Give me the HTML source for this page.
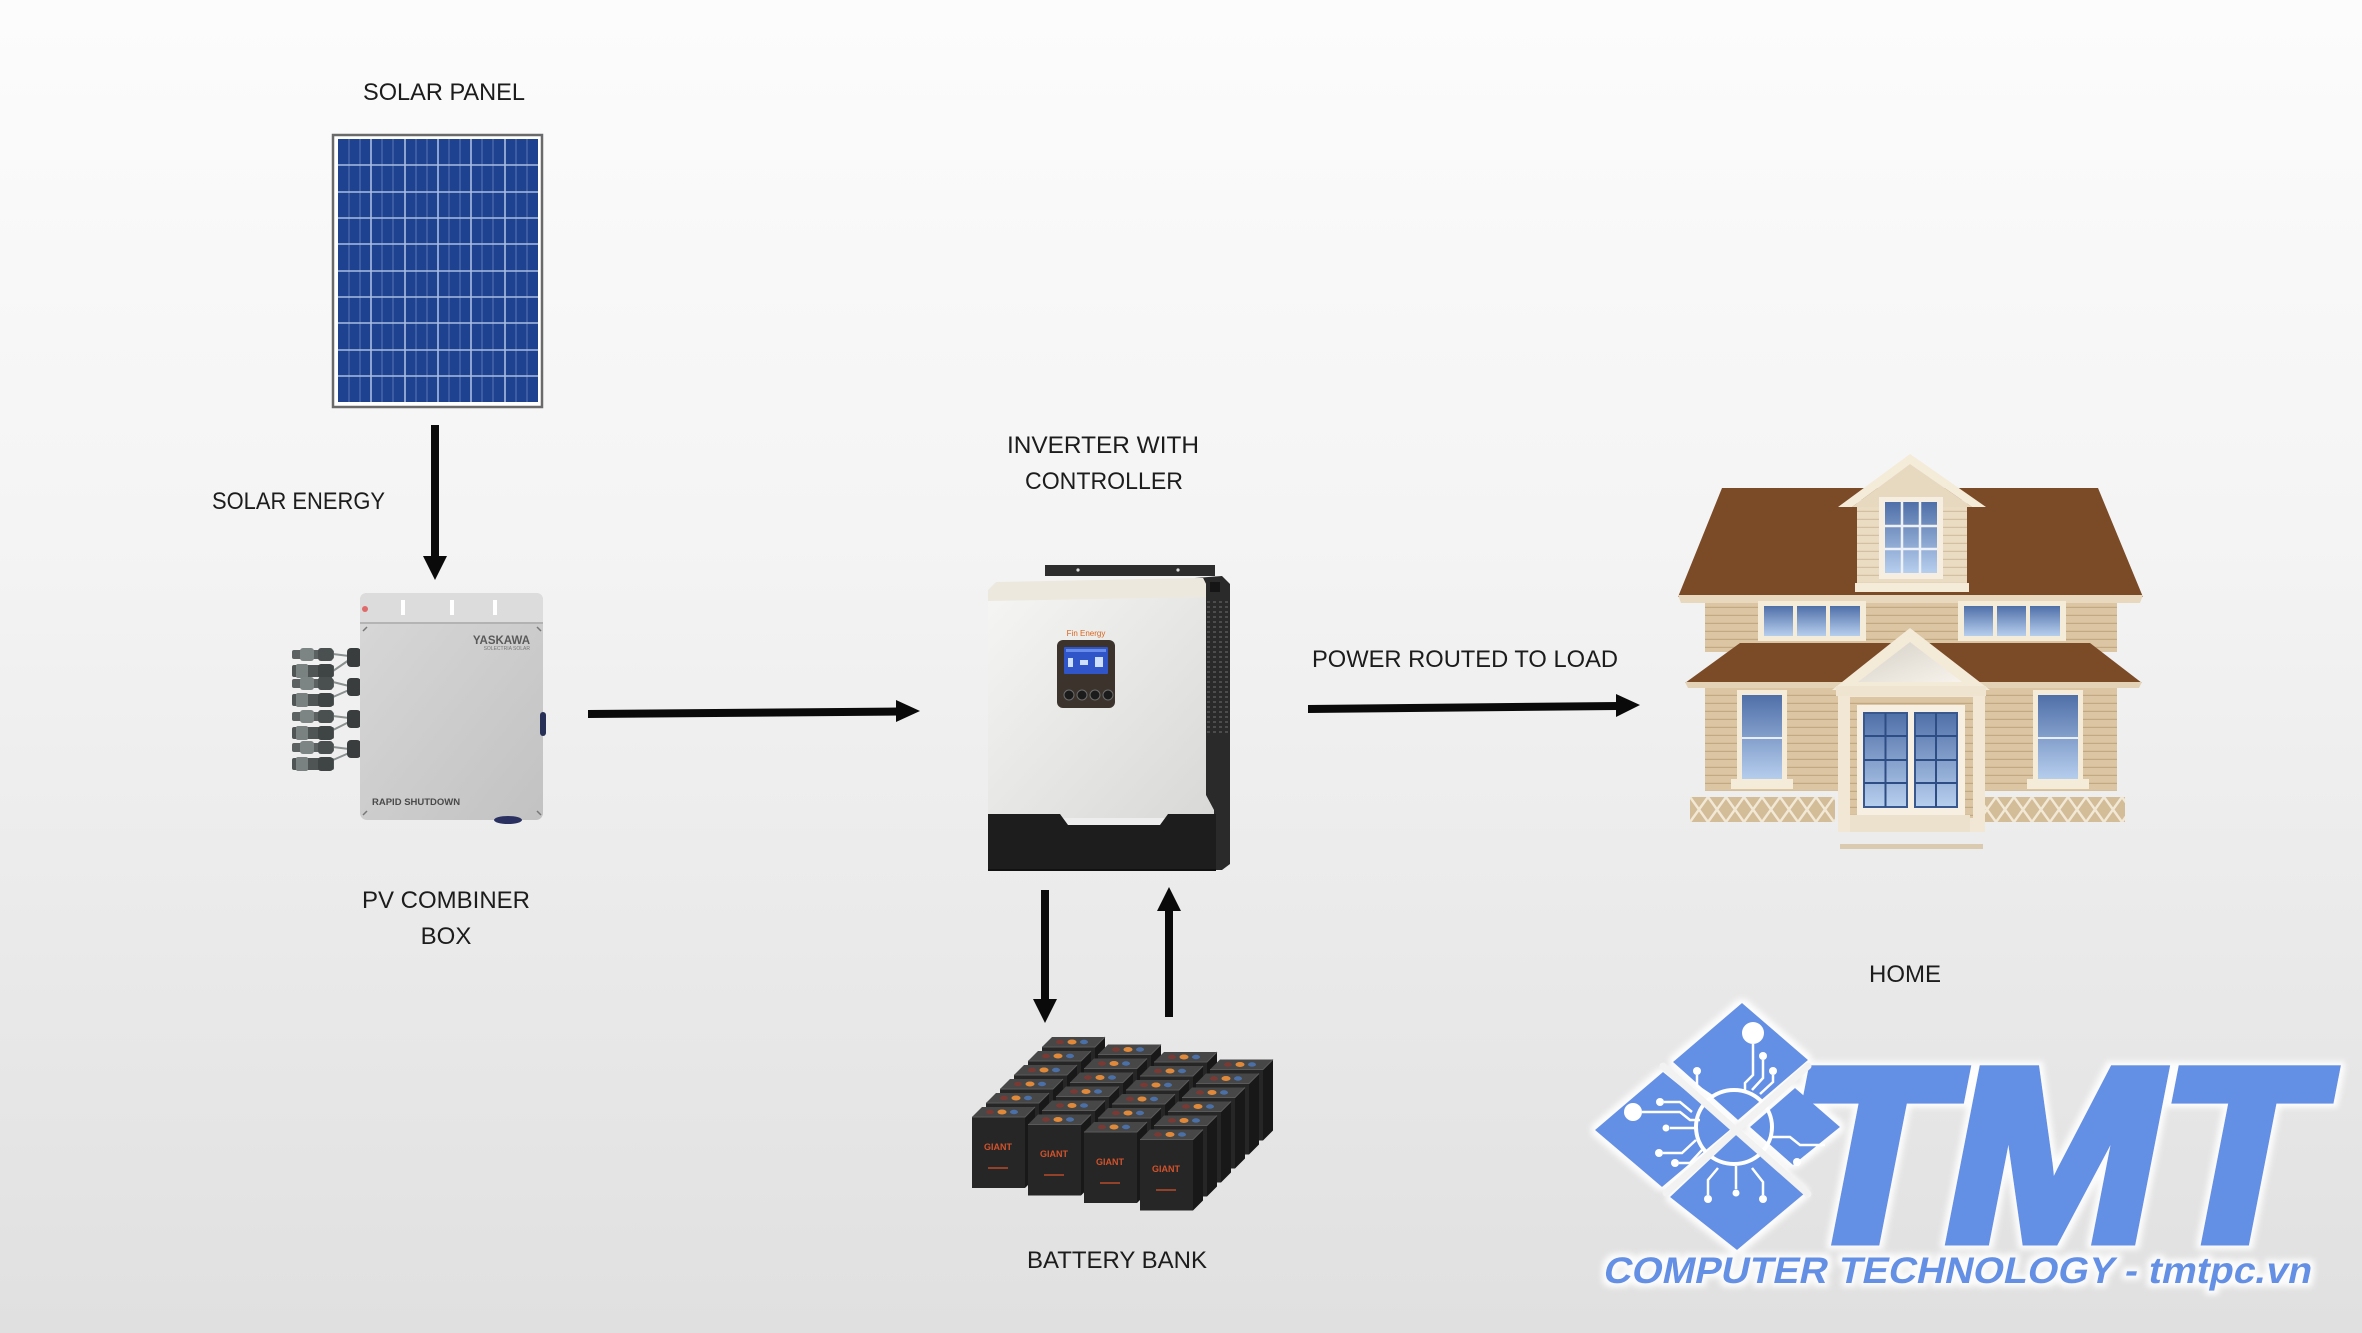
<!DOCTYPE html>
<html><head><meta charset="utf-8"><style>
html,body{margin:0;padding:0;width:2362px;height:1333px;overflow:hidden;background:#eee;}
svg{display:block}
text{font-family:"Liberation Sans",Arial,sans-serif;}
</style></head><body>
<svg width="2362" height="1333" viewBox="0 0 2362 1333" xmlns="http://www.w3.org/2000/svg" xmlns:xlink="http://www.w3.org/1999/xlink">
<defs>
 <linearGradient id="bg" x1="0" y1="0" x2="0" y2="1">
  <stop offset="0" stop-color="#fcfcfc"/>
  <stop offset="0.4" stop-color="#f4f4f4"/>
  <stop offset="1" stop-color="#e0e0e0"/>
 </linearGradient>
 <linearGradient id="glass" x1="0" y1="0" x2="0" y2="1">
  <stop offset="0" stop-color="#4f6fa8"/>
  <stop offset="1" stop-color="#b7cfee"/>
 </linearGradient>
 <linearGradient id="invface" x1="0" y1="0" x2="1" y2="1">
  <stop offset="0" stop-color="#f6f6f4"/>
  <stop offset="1" stop-color="#d8d8d6"/>
 </linearGradient>
 <linearGradient id="boxg" x1="0" y1="0" x2="1" y2="1">
  <stop offset="0" stop-color="#d8d8d8"/>
  <stop offset="1" stop-color="#c2c2c2"/>
 </linearGradient>
 <linearGradient id="gableg" x1="0" y1="0" x2="1" y2="1">
  <stop offset="0" stop-color="#d6d0c6"/>
  <stop offset="1" stop-color="#f7f3ec"/>
 </linearGradient>
 <pattern id="siding" width="10" height="8" patternUnits="userSpaceOnUse">
  <rect width="10" height="8" fill="#dbc5a3"/>
  <rect y="6.8" width="10" height="1.2" fill="#c3a983"/>
 </pattern>
 <pattern id="sidingL" width="10" height="8" patternUnits="userSpaceOnUse">
  <rect width="10" height="8" fill="#eadcc2"/>
  <rect y="6.8" width="10" height="1.2" fill="#d3c0a0"/>
 </pattern>
 <pattern id="lattice" width="18" height="25" patternUnits="userSpaceOnUse" x="1690" y="797">
  <rect width="18" height="25" fill="#d3bc98"/>
  <path d="M0,0 L18,25 M18,0 L0,25" stroke="#f2e8d6" stroke-width="2.5"/>
 </pattern>
 <pattern id="vent" width="6" height="5" patternUnits="userSpaceOnUse">
  <rect width="6" height="5" fill="#2a2a2a"/>
  <rect x="1" y="1" width="3" height="2" fill="#4c4c4c"/>
 </pattern>
 <g id="bat">
  <polygon points="53,0 63,-10 63,61 53,71" fill="#181818"/>
  <polygon points="0,0 53,0 63,-10 10,-10" fill="#474747"/>
  <path d="M0,0 H53 L63,-10" stroke="#5a5a5a" stroke-width="1" fill="none"/>
  <rect x="0" y="0.5" width="53" height="70.5" fill="#262626"/>
  <ellipse cx="18" cy="-5" rx="4" ry="2.2" fill="#7a3a33"/>
  <ellipse cx="30" cy="-5" rx="4.5" ry="2.5" fill="#e0893a"/>
  <ellipse cx="42" cy="-5" rx="4" ry="2.2" fill="#4b70a8"/>
 </g>
 <filter id="glow" x="-10%" y="-10%" width="120%" height="120%">
  <feMorphology in="SourceAlpha" operator="dilate" radius="4" result="d"/>
  <feGaussianBlur in="d" stdDeviation="3" result="b"/>
  <feFlood flood-color="#ffffff" flood-opacity="0.9"/>
  <feComposite in2="b" operator="in" result="w"/>
  <feMerge><feMergeNode in="w"/><feMergeNode in="SourceGraphic"/></feMerge>
 </filter>
</defs>

<rect width="2362" height="1333" fill="url(#bg)"/>

<!-- ================= LABELS ================= -->
<g fill="#1c1c1c" font-size="24">
 <text x="444" y="100" text-anchor="middle" textLength="162" lengthAdjust="spacingAndGlyphs">SOLAR PANEL</text>
 <text x="212" y="509" textLength="173" lengthAdjust="spacingAndGlyphs">SOLAR ENERGY</text>
 <text x="446" y="908" text-anchor="middle">PV COMBINER</text>
 <text x="446" y="944" text-anchor="middle">BOX</text>
 <text x="1103" y="453" text-anchor="middle" textLength="192" lengthAdjust="spacingAndGlyphs">INVERTER WITH</text>
 <text x="1104" y="489" text-anchor="middle" textLength="158" lengthAdjust="spacingAndGlyphs">CONTROLLER</text>
 <text x="1312" y="667" textLength="306" lengthAdjust="spacingAndGlyphs">POWER ROUTED TO LOAD</text>
 <text x="1905" y="982" text-anchor="middle">HOME</text>
 <text x="1117" y="1268" text-anchor="middle" textLength="180" lengthAdjust="spacingAndGlyphs">BATTERY BANK</text>
</g>

<!-- ================= SOLAR PANEL ================= -->
<rect x="333" y="135" width="209" height="272" fill="#ffffff" stroke="#6a6a6a" stroke-width="2.5"/>
<rect x="338" y="139" width="200" height="263" fill="#1e4190"/>
<g stroke="#5a78b8" stroke-width="1">
 <path d="M349,139V402M360,139V402M382,139V402M393,139V402M416,139V402M427,139V402M449,139V402M460,139V402M482,139V402M493,139V402M516,139V402M527,139V402"/>
</g>
<g stroke="#a9bde2" stroke-width="1.6">
 <path d="M371,139V402M405,139V402M438,139V402M471,139V402M505,139V402"/>
 <path d="M338,165H538M338,192H538M338,218H538M338,244H538M338,271H538M338,297H538M338,323H538M338,350H538M338,376H538"/>
</g>

<!-- ================= ARROWS ================= -->
<g fill="#0a0a0a">
 <rect x="431" y="425" width="8" height="134"/>
 <polygon points="423,556 447,556 435,580"/>
 <polygon points="588,710 898,707.5 898,715.5 588,718"/>
 <polygon points="896,700 920,711 896,722"/>
 <polygon points="1308,705 1618,702 1618,710 1308,713"/>
 <polygon points="1616,694 1640,705 1616,717"/>
 <rect x="1041" y="890" width="8" height="112"/>
 <polygon points="1033,999 1057,999 1045,1023"/>
 <rect x="1165" y="908" width="8" height="109"/>
 <polygon points="1157,911 1181,911 1169,887"/>
</g>

<!-- ================= PV COMBINER BOX ================= -->
<g>
 <g stroke="#8a9090" stroke-width="2" fill="none">
  <path d="M333,654 L349,656 M333,671 L349,660"/>
  <path d="M333,682 L349,686 M333,697 L349,690"/>
  <path d="M333,716 L349,718 M333,730 L349,722"/>
  <path d="M333,747 L349,749 M333,760 L349,753"/>
 </g>
 <g>
  <g id="conn">
   <rect x="292" y="650" width="42" height="9" rx="2" fill="#5c6262"/>
   <rect x="300" y="648" width="14" height="13" rx="3" fill="#7d8484"/>
   <rect x="318" y="648" width="15" height="13" rx="3" fill="#4a4f4f"/>
   <rect x="292" y="665" width="42" height="12" rx="2" fill="#4f5555"/>
   <rect x="296" y="664" width="12" height="14" rx="2" fill="#7a8181"/>
   <rect x="318" y="664" width="15" height="14" rx="3" fill="#3f4444"/>
  </g>
  <use xlink:href="#conn" href="#conn" y="29"/>
  <use xlink:href="#conn" href="#conn" y="62"/>
  <use xlink:href="#conn" href="#conn" y="93"/>
 </g>
 <g fill="#3a3d3d">
  <rect x="347" y="648" width="14" height="19" rx="4"/>
  <rect x="347" y="678" width="14" height="18" rx="4"/>
  <rect x="347" y="710" width="14" height="18" rx="4"/>
  <rect x="347" y="740" width="14" height="18" rx="4"/>
 </g>
 <rect x="360" y="593" width="183" height="227" rx="7" fill="url(#boxg)"/>
 <path d="M367,593 H536 Q543,593 543,600 V622 H360 V600 Q360,593 367,593 Z" fill="#dcdcdc"/>
 <path d="M360,623 H543" stroke="#a9a9a9" stroke-width="1.5"/>
 <g fill="#ffffff">
  <rect x="401" y="600" width="4" height="15"/>
  <rect x="450" y="600" width="4" height="15"/>
  <rect x="493" y="600" width="4" height="15"/>
 </g>
 <circle cx="365" cy="609" r="3" fill="#e06a6a"/>
 <g stroke="#777" stroke-width="1.5">
  <path d="M363,631 l4,-4 M537,627 l4,4 M363,815 l4,-4 M537,811 l4,4"/>
 </g>
 <text x="530" y="644" font-size="11.5" font-weight="bold" fill="#5a5a5a" text-anchor="end">YASKAWA</text>
 <text x="530" y="650" font-size="5" fill="#777" text-anchor="end">SOLECTRIA SOLAR</text>
 <text x="372" y="805" font-size="9.5" font-weight="bold" fill="#4a4a4a">RAPID SHUTDOWN</text>
 <rect x="540" y="712" width="6" height="24" rx="3" fill="#273158"/>
 <ellipse cx="508" cy="820" rx="14" ry="4" fill="#2a3160"/>
</g>

<!-- ================= INVERTER ================= -->
<g>
 <rect x="1045" y="565" width="170" height="11" fill="#2d2d2d"/>
 <circle cx="1078" cy="570" r="1.6" fill="#ddd"/>
 <circle cx="1178" cy="570" r="1.6" fill="#ddd"/>
 <polygon points="1195,578 1222,576 1230,584 1230,864 1222,870 1195,870" fill="#2a2a2a"/>
 <rect x="1210" y="582" width="10" height="10" fill="#151515"/>
 <rect x="1207" y="600" width="21" height="135" fill="url(#vent)"/>
 <polygon points="988,590 996,582 1203,578 1206,584 1206,795 1214,810 1214,818 988,818" fill="url(#invface)"/>
 <polygon points="988,590 996,582 1203,578 1206,584 1206,597 988,601" fill="#ede8de"/>
 <polygon points="988,814 1060,814 1068,825 1160,825 1168,814 1216,814 1216,870 988,870" fill="#1d1d1d"/>
 <path d="M988,870 H1216" stroke="#111" stroke-width="2"/>
 <!-- display -->
 <rect x="1057" y="640" width="58" height="68" rx="6" fill="#3b332c"/>
 <rect x="1064" y="647" width="44" height="27" rx="1" fill="#2f55c8"/>
 <rect x="1066" y="649" width="40" height="3" fill="#8fb0ff" opacity="0.6"/>
 <g fill="#cfe0ff">
  <rect x="1068" y="658" width="5" height="9"/>
  <rect x="1080" y="660" width="8" height="5"/>
  <rect x="1095" y="657" width="8" height="10"/>
 </g>
 <g fill="#1b1b1b" stroke="#6b6b6b" stroke-width="1">
  <circle cx="1069" cy="695" r="5"/>
  <circle cx="1082" cy="695" r="5"/>
  <circle cx="1095" cy="695" r="5"/>
  <circle cx="1108" cy="695" r="5"/>
 </g>
 <text x="1086" y="636" font-size="8" fill="#d8641e" text-anchor="middle">Fin Energy</text>
</g>

<!-- ================= BATTERY BANK ================= -->
<g>
 <use href="#bat" xlink:href="#bat" x="1042" y="1047"/>
 <use href="#bat" xlink:href="#bat" x="1098" y="1054.5"/>
 <use href="#bat" xlink:href="#bat" x="1154" y="1062"/>
 <use href="#bat" xlink:href="#bat" x="1210" y="1069.5"/>
 <use href="#bat" xlink:href="#bat" x="1028" y="1061"/>
 <use href="#bat" xlink:href="#bat" x="1084" y="1068.5"/>
 <use href="#bat" xlink:href="#bat" x="1140" y="1076"/>
 <use href="#bat" xlink:href="#bat" x="1196" y="1083.5"/>
 <use href="#bat" xlink:href="#bat" x="1014" y="1075"/>
 <use href="#bat" xlink:href="#bat" x="1070" y="1082.5"/>
 <use href="#bat" xlink:href="#bat" x="1126" y="1090"/>
 <use href="#bat" xlink:href="#bat" x="1182" y="1097.5"/>
 <use href="#bat" xlink:href="#bat" x="1000" y="1089"/>
 <use href="#bat" xlink:href="#bat" x="1056" y="1096.5"/>
 <use href="#bat" xlink:href="#bat" x="1112" y="1104"/>
 <use href="#bat" xlink:href="#bat" x="1168" y="1111.5"/>
 <use href="#bat" xlink:href="#bat" x="986" y="1103"/>
 <use href="#bat" xlink:href="#bat" x="1042" y="1110.5"/>
 <use href="#bat" xlink:href="#bat" x="1098" y="1118"/>
 <use href="#bat" xlink:href="#bat" x="1154" y="1125.5"/>
 <use href="#bat" xlink:href="#bat" x="972" y="1117"/>
 <use href="#bat" xlink:href="#bat" x="1028" y="1124.5"/>
 <use href="#bat" xlink:href="#bat" x="1084" y="1132"/>
 <use href="#bat" xlink:href="#bat" x="1140" y="1139.5"/>
 <g font-size="9" font-weight="bold" fill="#d2522c" text-anchor="middle">
  <text x="998" y="1150">GIANT</text>
  <text x="1054" y="1157">GIANT</text>
  <text x="1110" y="1165">GIANT</text>
  <text x="1166" y="1172">GIANT</text>
 </g>
 <g stroke="#b84a2a" stroke-width="1.5">
  <path d="M988,1168h20M1044,1175h20M1100,1183h20M1156,1190h20"/>
 </g>
</g>

<!-- ================= HOUSE ================= -->
<g>
 <rect x="1705" y="597" width="412" height="55" fill="url(#siding)"/>
 <polygon points="1722,488 2098,488 2143,597 1678,597" fill="#7b4a27"/>
 <polygon points="1678,595 2143,595 2140,603 1681,603" fill="#e7d8be"/>
 <rect x="1857" y="500" width="110" height="90" fill="url(#sidingL)"/>
 <polygon points="1838,507 1910,454 1986,507 1972,507 1910,464 1852,507" fill="#f4ebd9"/>
 <polygon points="1852,507 1910,464 1972,507" fill="#e6d9c0"/>
 <rect x="1855" y="583" width="114" height="9" fill="#f4ebd9"/>
 <rect x="1879" y="497" width="64" height="82" fill="#f6eee0"/>
 <rect x="1885" y="502" width="52" height="71" fill="url(#glass)"/>
 <path d="M1902,502V573M1920,502V573M1885,526H1937M1885,549H1937" stroke="#eef2f8" stroke-width="2.5"/>
 <rect x="1758" y="601" width="108" height="40" fill="#f4ebd9"/>
 <rect x="1764" y="606" width="29" height="30" fill="url(#glass)"/>
 <rect x="1797" y="606" width="29" height="30" fill="url(#glass)"/>
 <rect x="1830" y="606" width="30" height="30" fill="url(#glass)"/>
 <rect x="1958" y="601" width="108" height="40" fill="#f4ebd9"/>
 <rect x="1964" y="606" width="29" height="30" fill="url(#glass)"/>
 <rect x="1997" y="606" width="29" height="30" fill="url(#glass)"/>
 <rect x="2030" y="606" width="30" height="30" fill="url(#glass)"/>
 <rect x="1705" y="683" width="412" height="108" fill="url(#siding)"/>
 <polygon points="1740,643 2090,643 2142,683 1685,683" fill="#7b4a27"/>
 <polygon points="1685,682 2142,682 2139,688 1688,688" fill="#e3d2b5"/>
 <rect x="1737" y="690" width="50" height="94" fill="#f4ebd9"/>
 <rect x="1742" y="695" width="40" height="85" fill="url(#glass)"/>
 <path d="M1742,738H1782" stroke="#e8eef7" stroke-width="2"/>
 <rect x="1731" y="779" width="62" height="10" fill="#f4ebd9"/>
 <rect x="2033" y="690" width="50" height="94" fill="#f4ebd9"/>
 <rect x="2038" y="695" width="40" height="85" fill="url(#glass)"/>
 <path d="M2038,738H2078" stroke="#e8eef7" stroke-width="2"/>
 <rect x="2027" y="779" width="62" height="10" fill="#f4ebd9"/>
 <rect x="1690" y="797" width="145" height="25" fill="url(#lattice)"/>
 <rect x="1985" y="797" width="140" height="25" fill="url(#lattice)"/>
 <rect x="1838" y="690" width="147" height="142" fill="#f1e7d4"/>
 <rect x="1850" y="697" width="123" height="121" fill="url(#siding)"/>
 <polygon points="1832,690 1910,628 1990,690" fill="#f3ead8"/>
 <polygon points="1858,682 1910,642 1962,682" fill="url(#gableg)"/>
 <rect x="1836" y="686" width="150" height="10" fill="#efe4cf"/>
 <rect x="1857" y="705" width="108" height="110" fill="#f7f0e2"/>
 <rect x="1864" y="713" width="43" height="94" fill="url(#glass)" stroke="#3a5890" stroke-width="2"/>
 <rect x="1915" y="713" width="42" height="94" fill="url(#glass)" stroke="#3a5890" stroke-width="2"/>
 <path d="M1885.5,713V807M1936,713V807M1864,736H1907M1864,760H1907M1864,783H1907M1915,736H1957M1915,760H1957M1915,783H1957" stroke="#2f4d85" stroke-width="2"/>
 <rect x="1850" y="815" width="120" height="17" fill="#ece1cc"/>
 <rect x="1840" y="844" width="143" height="5" fill="#d9cab0"/>
</g>

<!-- ================= LOGO ================= -->
<g filter="url(#glow)">
 <g fill="#6390e4">
  <polygon points="1742,1003 1808,1060 1738,1120 1673,1062"/>
  <polygon points="1663,1072 1732,1128 1662,1187 1595,1130"/>
  <polygon points="1738,1133 1805,1193 1737,1250 1670,1197"/>
  <polygon points="1795,1088 1840,1127 1793,1165 1750,1127"/>
 </g>
 <g transform="translate(1778,1240) skewX(-11)">
  <text x="0" y="0" font-size="246" font-weight="bold" textLength="526" lengthAdjust="spacingAndGlyphs" fill="#6390e4" stroke="#6390e4" stroke-width="11" stroke-linejoin="miter">TMT</text>
 </g>
 <g transform="translate(1602,1283) skewX(-12)">
  <text x="0" y="0" font-size="37" font-weight="bold" textLength="708" lengthAdjust="spacingAndGlyphs" fill="#6390e4">COMPUTER TECHNOLOGY - tmtpc.vn</text>
 </g>
</g>
<g stroke="#ffffff" stroke-width="2.5" fill="none">
 <ellipse cx="1734" cy="1127" rx="38" ry="37" stroke-width="4"/>
 <path d="M1753,1044 L1753,1075 L1745,1083 L1745,1092"/>
 <path d="M1763,1060 L1763,1078 L1752,1090"/>
 <path d="M1773,1075 L1773,1082 L1760,1094"/>
 <path d="M1697,1075 L1697,1086 L1712,1096"/>
 <path d="M1642,1112 L1680,1112 L1690,1120 L1700,1120"/>
 <path d="M1664,1102 L1680,1102 L1692,1112"/>
 <path d="M1670,1128 L1697,1128"/>
 <path d="M1663,1153 L1682,1153 L1696,1140"/>
 <path d="M1679,1163 L1690,1163 L1702,1150"/>
 <path d="M1708,1195 L1708,1180 L1718,1168"/>
 <path d="M1736,1189 L1736,1166"/>
 <path d="M1763,1195 L1763,1182 L1752,1168"/>
 <path d="M1772,1137 L1790,1137 L1800,1145 L1825,1145"/>
</g>
<g fill="#ffffff">
 <circle cx="1753" cy="1033" r="11"/>
 <circle cx="1763" cy="1056" r="4"/>
 <circle cx="1773" cy="1071" r="4"/>
 <circle cx="1697" cy="1071" r="4"/>
 <circle cx="1633" cy="1112" r="9"/>
 <circle cx="1660" cy="1102" r="4"/>
 <circle cx="1666" cy="1128" r="3.5"/>
 <circle cx="1659" cy="1153" r="4"/>
 <circle cx="1675" cy="1163" r="4"/>
 <circle cx="1708" cy="1199" r="4"/>
 <circle cx="1736" cy="1193" r="3.5"/>
 <circle cx="1763" cy="1199" r="4"/>
 <circle cx="1797" cy="1162" r="4"/>
</g>
<g stroke="#f2f2f2" stroke-width="7" stroke-linecap="round">
 <path d="M1663,1066 L1808,1194"/>
 <path d="M1808,1066 L1666,1193"/>
</g>
</svg>
</body></html>
